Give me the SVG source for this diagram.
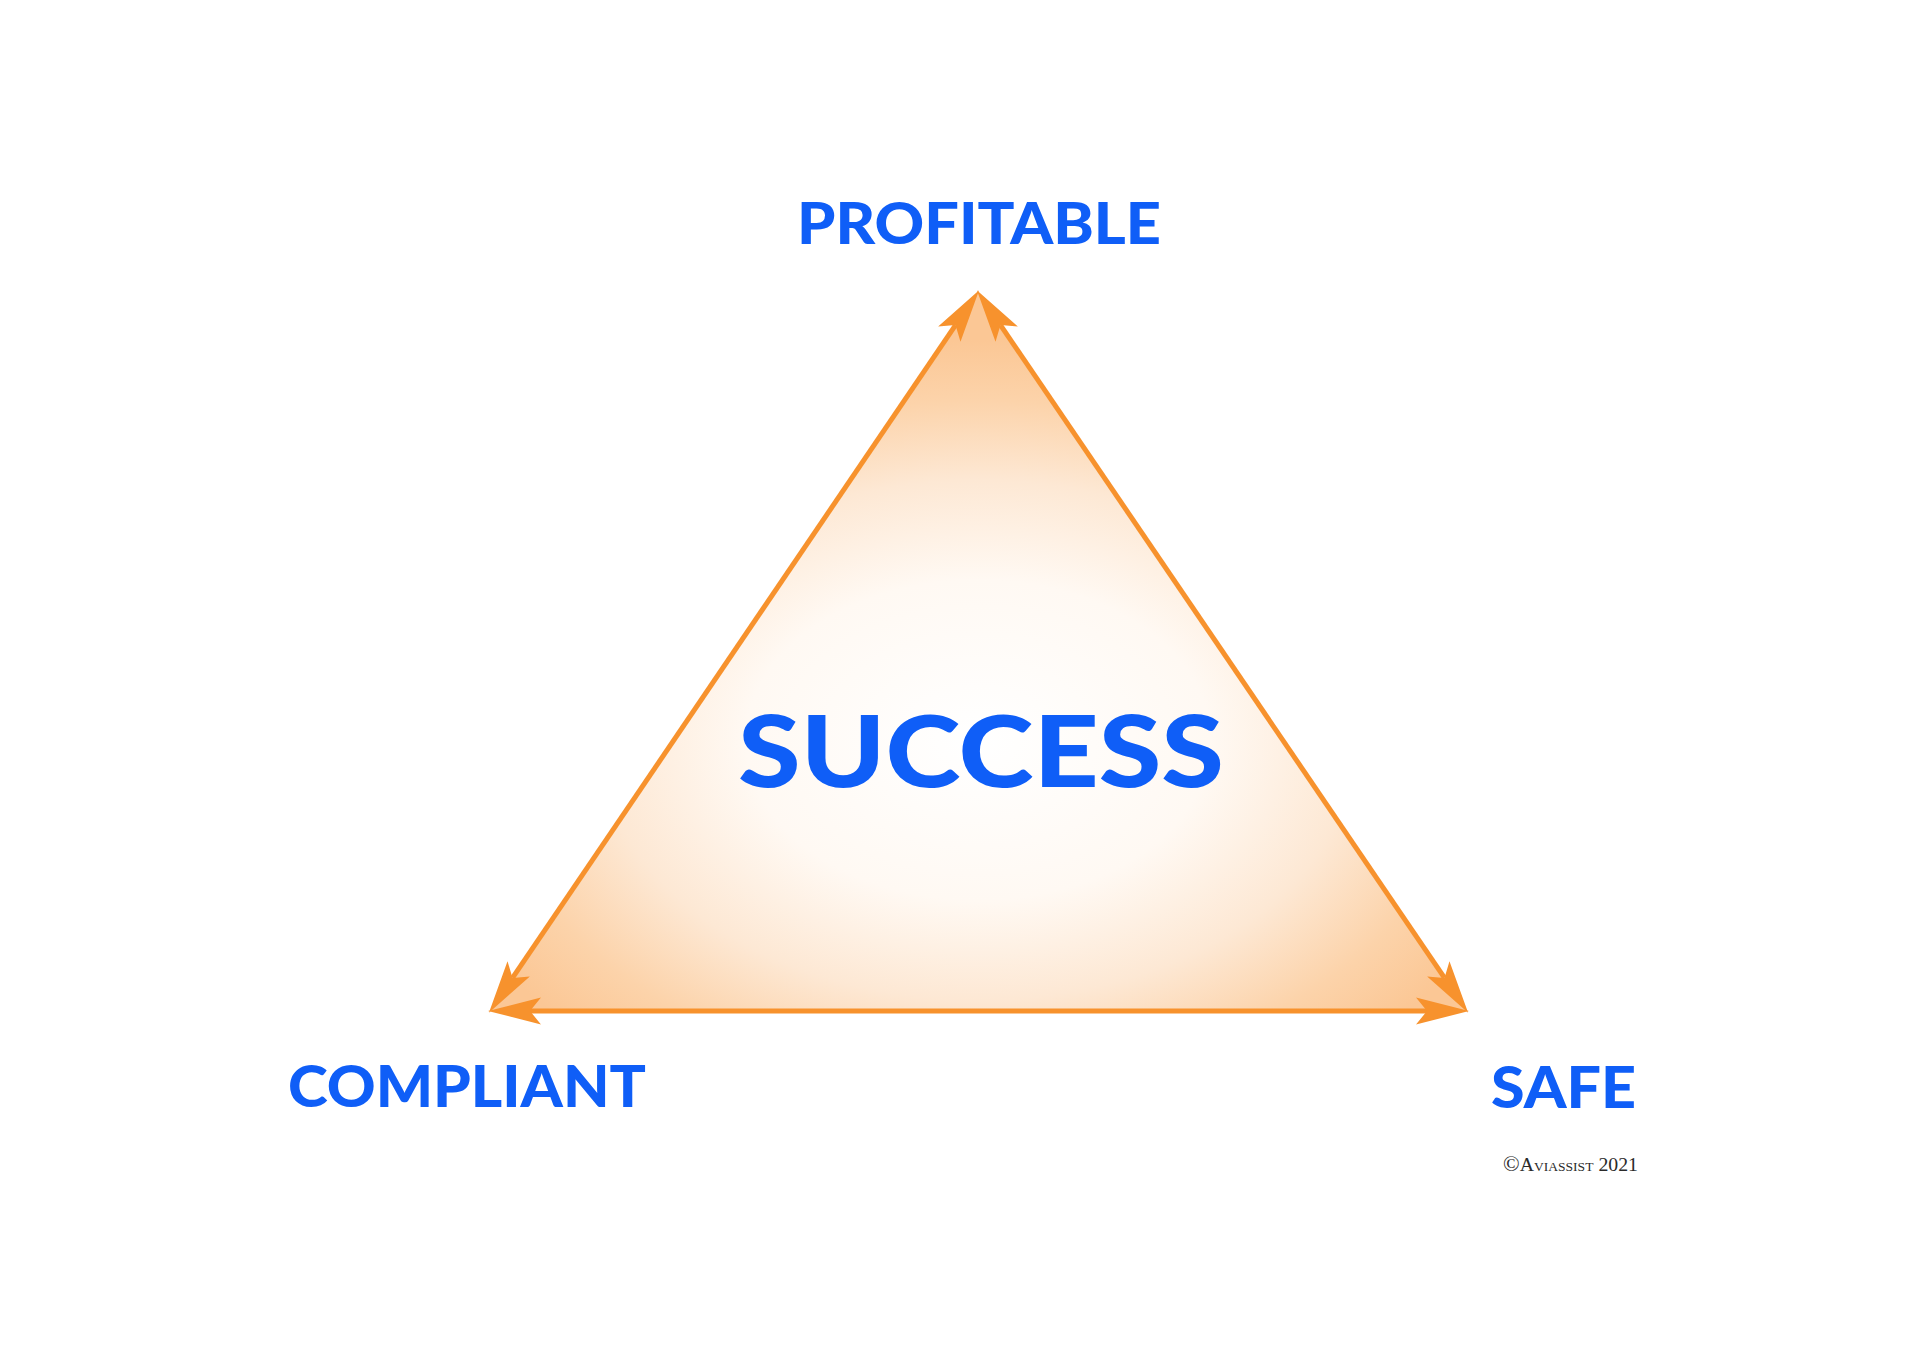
<svg xmlns="http://www.w3.org/2000/svg" width="1920" height="1357" viewBox="0 0 1920 1357">
<style>
.lbl{font-family:Lato,"Noto Sans","Liberation Sans",sans-serif;font-weight:900;fill:#0F5EF7;}
.edge{stroke:#F7922D;stroke-width:5;fill:none;marker-start:url(#arr);marker-end:url(#arr);}
.copy{font-family:"Liberation Serif",serif;font-variant:small-caps;fill:#2a2a2a;}
</style>
<defs>
<radialGradient id="tg" gradientUnits="userSpaceOnUse" cx="978" cy="740" r="400" gradientTransform="translate(978 740) scale(1.45 1) translate(-978 -740)">
<stop offset="0" stop-color="#FFFFFF"/>
<stop offset="0.4" stop-color="#FFF9F3"/>
<stop offset="0.65" stop-color="#FDE8D4"/>
<stop offset="0.85" stop-color="#FCD3AA"/>
<stop offset="1" stop-color="#FBC795"/>
</radialGradient>
<marker id="arr" viewBox="-12 -15 56 30" refX="0" refY="0" markerWidth="56" markerHeight="30" markerUnits="userSpaceOnUse" orient="auto-start-reverse">
<path d="M42,0 L-11,-13.5 L0,0 L-11,13.5 Z" fill="#F7922D"/>
</marker>
</defs>
<rect width="1920" height="1357" fill="#FFFFFF"/>
<g id="triangle">
<polygon points="978,292 1467,1011 490,1011" fill="url(#tg)"/>
</g>
<g id="connectors">
<line class="edge" x1="512.5" y1="977.9" x2="955.5" y2="325.1"/>
<line class="edge" x1="1000.5" y1="325.1" x2="1444.5" y2="977.9"/>
<line class="edge" x1="530" y1="1011" x2="1427" y2="1011"/>
</g>
<g id="node-profitable">
<text class="lbl" x="797" y="244" font-size="57" textLength="364" lengthAdjust="spacingAndGlyphs">PROFITABLE</text>
</g>
<g id="node-success">
<text class="lbl" x="738" y="787" font-size="99" textLength="486" lengthAdjust="spacingAndGlyphs">SUCCESS</text>
</g>
<g id="node-compliant">
<text class="lbl" x="288" y="1107" font-size="58" textLength="358" lengthAdjust="spacingAndGlyphs">COMPLIANT</text>
</g>
<g id="node-safe">
<text class="lbl" x="1491" y="1108" font-size="58" textLength="145" lengthAdjust="spacingAndGlyphs">SAFE</text>
</g>
<g id="copyright">
<text class="copy" x="1503" y="1171" font-size="19" textLength="135" lengthAdjust="spacingAndGlyphs"><tspan font-size="21">©</tspan>Aviassist 2021</text>
</g>
</svg>
